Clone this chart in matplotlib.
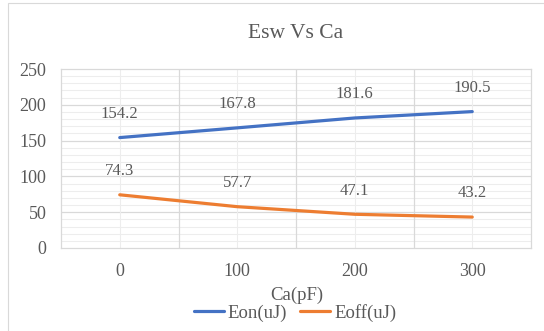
import numpy as np
import matplotlib
matplotlib.use("Agg")
import matplotlib.pyplot as plt
from matplotlib.patches import Rectangle

# ---------- data ----------
ca_pf = [0, 100, 200, 300]
eon_uj = [154.2, 167.8, 181.6, 190.5]
eoff_uj = [74.3, 57.7, 47.1, 43.2]
x_ticks = [0, 100, 200, 300]
y_ticks = [0, 50, 100, 150, 200, 250]

TXT = "#595959"
BLUE = "#4472C4"
ORANGE = "#ED7D31"

plt.rcParams["font.family"] = ["Liberation Serif", "DejaVu Serif"]

fig = plt.figure(figsize=(5.44, 3.31), dpi=100)
fig.patches.append(Rectangle((8 / 544, -0.1), 1.1, 1 - 3 / 331 + 0.1, transform=fig.transFigure,
                             fill=False, edgecolor="#D9D9D9", linewidth=0.8))
ax = fig.add_axes([61 / 544, 1 - 248 / 331, (531 - 61) / 544, (248 - 69) / 331])

ax.set_xlim(-50, 350)
ax.set_ylim(0, 250)

# grid (Excel-like major / minor)
for v in np.arange(10, 250, 10):
    if v % 50:
        ax.axhline(v, color="#EDEDED", lw=0.8, zorder=0)
for v in [50, 100, 150, 200]:
    ax.axhline(v, color="#D9D9D9", lw=0.9, zorder=0)
for v in [0, 100, 200, 300]:
    ax.axvline(v, color="#EDEDED", lw=0.8, zorder=0)
for v in [50, 150, 250]:
    ax.axvline(v, color="#D9D9D9", lw=0.9, zorder=0)

for s in ax.spines.values():
    s.set_color("#D9D9D9")
    s.set_linewidth(0.9)

l1, = ax.plot(ca_pf, eon_uj, color=BLUE, lw=2.3, solid_capstyle="round", label="Eon(uJ)")
l2, = ax.plot(ca_pf, eoff_uj, color=ORANGE, lw=2.3, solid_capstyle="round", label="Eoff(uJ)")

for xs, ys in [(ca_pf, eon_uj), (ca_pf, eoff_uj)]:
    for x, y in zip(xs, ys):
        ax.annotate(f"{y:.1f}", (x, y), xytext=(0, 17), textcoords="offset points",
                    ha="center", va="center", fontsize=12, color=TXT)

ax.set_xticks(x_ticks)
ax.set_yticks(y_ticks)
ax.tick_params(length=0, labelsize=13, labelcolor=TXT, pad=10.5)

ax.set_title("Esw Vs Ca", fontsize=15.5, color=TXT, pad=22)
fig.text(297 / 544, 1 - 295 / 331, "Ca(pF)", ha="center", va="center", fontsize=13.5, color=TXT)
fig.legend(handles=[l1, l2], loc="center", bbox_to_anchor=(295 / 544, 1 - 313 / 331), ncol=2,
           frameon=False, fontsize=13.5, labelcolor=TXT, handlelength=1.6, handletextpad=0.2,
           columnspacing=0.7, borderpad=0)

fig.savefig("out.png", dpi=100)
